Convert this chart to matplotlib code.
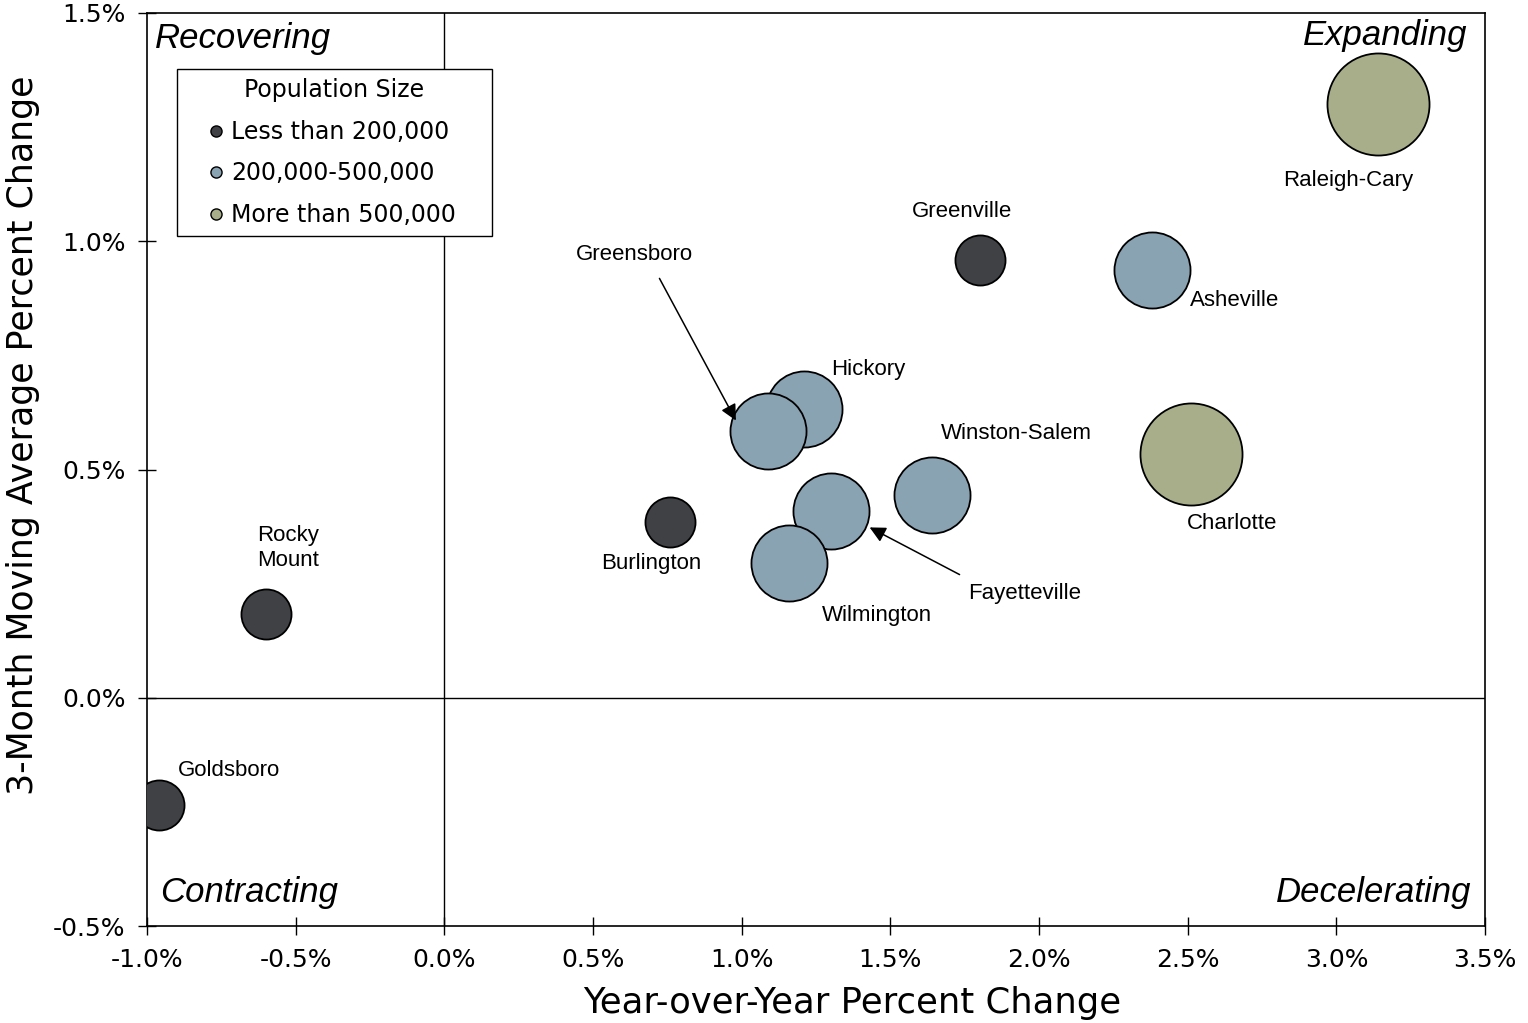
import matplotlib.pyplot as plt
from matplotlib.lines import Line2D
from matplotlib.ticker import FuncFormatter, MultipleLocator

# metro areas: year-over-year change, 3-month moving average change (%)
cities = ["Raleigh-Cary", "Charlotte", "Asheville", "Greenville", "Hickory",
          "Greensboro", "Winston-Salem", "Fayetteville", "Wilmington",
          "Burlington", "Rocky Mount", "Goldsboro"]
yoy = [3.14, 2.51, 2.38, 1.80, 1.21, 1.09, 1.64, 1.30, 1.16, 0.76, -0.60, -0.96]
mma = [1.30, 0.535, 0.937, 0.958, 0.633, 0.584, 0.444, 0.409, 0.295, 0.385, 0.183, -0.235]
size_group = ["large", "large", "mid", "small", "mid", "mid", "mid", "mid", "mid",
              "small", "small", "small"]

# label positions (data coords)
label_x = [3.04, 2.65, 2.656, 1.741, 1.425, 0.638, 1.923, 1.95, 1.455, 0.695, -0.526, -0.724]
label_y = [1.132, 0.381, 0.871, 1.066, 0.718, 0.970, 0.578, 0.229, 0.181, 0.295, 0.328, -0.160]
label_text = ["Raleigh-Cary", "Charlotte", "Asheville", "Greenville", "Hickory",
              "Greensboro", "Winston-Salem", "Fayetteville", "Wilmington",
              "Burlington", "Rocky\nMount", "Goldsboro"]

groups = ["small", "mid", "large"]
group_names = ["Less than 200,000", "200,000-500,000", "More than 500,000"]
group_colors = {"small": "#404145", "mid": "#8aa3b3", "large": "#a9ae8a"}
group_sizes = {"small": 1300, "mid": 3000, "large": 5400}

fig = plt.figure(figsize=(15.28, 10.23), dpi=100)
ax = fig.add_axes([0.0962, 0.0948, 0.8757, 0.8925])

# quadrant lines
ax.axhline(0, color="black", linewidth=1.0, zorder=1)
ax.axvline(0, color="black", linewidth=1.0, zorder=1)

for i in range(len(cities)):
    g = size_group[i]
    ax.scatter(yoy[i], mma[i], s=group_sizes[g], color=group_colors[g],
               edgecolor="black", linewidth=1.3, zorder=3)

for i in range(len(cities)):
    ax.text(label_x[i], label_y[i], label_text[i], ha="center", va="center",
            fontsize=16, family="Liberation Sans", linespacing=1.3, zorder=4)

# arrows
ax.annotate("", xy=(0.985, 0.602), xytext=(0.719, 0.924),
            arrowprops=dict(arrowstyle="-|>", color="black", lw=1.1,
                            mutation_scale=24), zorder=5)
ax.annotate("", xy=(1.422, 0.376), xytext=(1.741, 0.267),
            arrowprops=dict(arrowstyle="-|>", color="black", lw=1.1,
                            mutation_scale=24), zorder=5)

# quadrant names
qkw = dict(transform=ax.transAxes, fontsize=25, style="italic",
           family="Liberation Sans")
ax.text(0.006, 0.9726, "Recovering", ha="left", va="center", **qkw)
ax.text(0.987, 0.975, "Expanding", ha="right", va="center", **qkw)
ax.text(0.0097, 0.037, "Contracting", ha="left", va="center", **qkw)
ax.text(0.990, 0.037, "Decelerating", ha="right", va="center", **qkw)

ax.set_xlim(-1.0, 3.5)
ax.set_ylim(-0.5, 1.5)
ax.xaxis.set_major_locator(MultipleLocator(0.5))
ax.yaxis.set_major_locator(MultipleLocator(0.5))
pct = FuncFormatter(lambda v, p: f"{v:.1f}%")
ax.xaxis.set_major_formatter(pct)
ax.yaxis.set_major_formatter(pct)
ax.tick_params(direction="inout", length=13, width=1.0, labelsize=18, pad=9)

for sp in ax.spines.values():
    sp.set_linewidth(1.2)

ax.set_xlabel("Year-over-Year Percent Change", fontsize=25.5)
ax.set_ylabel("3-Month Moving Average Percent Change", fontsize=25)
ax.xaxis.set_label_coords(0.527, -0.0657)
ax.yaxis.set_label_coords(-0.08, 0.538)

handles = [Line2D([], [], marker="o", linestyle="none", markersize=8,
                  markerfacecolor=group_colors[g], markeredgecolor="black",
                  markeredgewidth=1.0) for g in groups]
leg = ax.legend(handles, group_names, title="Population Size", loc="upper left",
                bbox_to_anchor=(0.0224, 0.7569, 0.2354, 0.1818), mode="expand",
                borderaxespad=0, fontsize=17, title_fontsize=17,
                handletextpad=-0.6, handlelength=2.5, fancybox=False,
                edgecolor="black", framealpha=1, labelspacing=0.74,
                borderpad=0.4)
leg.get_frame().set_linewidth(1.0)

fig.savefig("out.png", dpi=100)
